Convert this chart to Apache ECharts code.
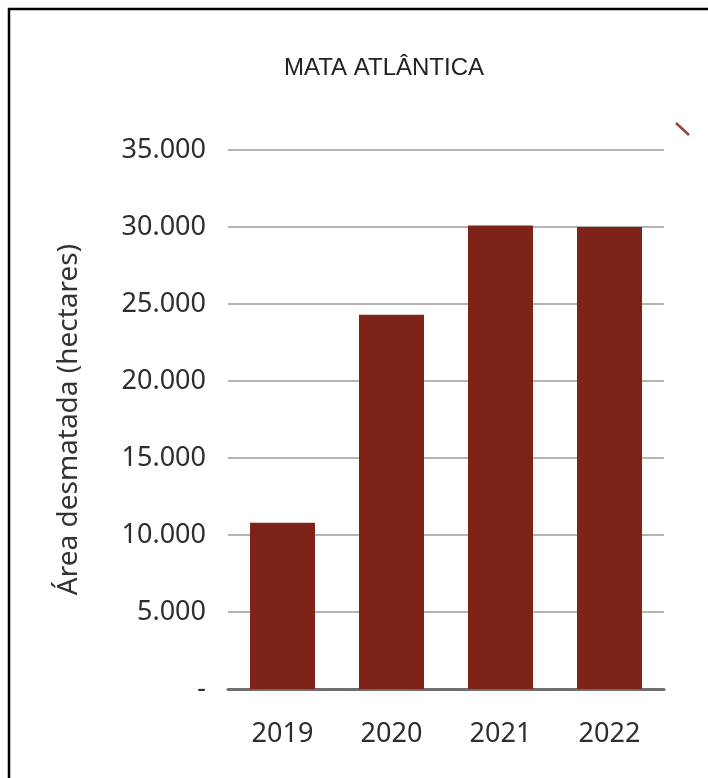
<!DOCTYPE html>
<html>
<head>
<meta charset="utf-8">
<script src="https://cdn.jsdelivr.net/npm/echarts@6/dist/echarts.min.js"></script>
<style>
  html, body { margin: 0; padding: 0; background: #fff; }
  #chart { width: 708px; height: 778px; }
</style>
</head>
<body>
<div id="chart"></div>
<script>
// dados
const years = ["2019", "2020", "2021", "2022"];
const areaDesmatada = [10800, 24300, 30100, 30000];
const yTicks = [0, 5000, 10000, 15000, 20000, 25000, 30000, 35000];

const fmt = (v) =>
  v === 0 ? "-" : String(v).replace(/\B(?=(\d{3})+(?!\d))/g, ".");

const chart = echarts.init(document.getElementById("chart"));
const option = {
  backgroundColor: "#fff",
  animation: false,
  grid: { left: 228, right: 44, top: 150, bottom: 89 },
  xAxis: {
    type: "category",
    data: years,
    axisLine: { lineStyle: { color: "#6e6e6e", width: 3 } },
    axisTick: { show: false },
    axisLabel: {
      margin: 32,
      fontFamily: "Noto Sans",
      fontSize: 27,
      color: "#2e2e2e",
    },
  },
  yAxis: {
    type: "value",
    min: yTicks[0],
    max: yTicks[yTicks.length - 1],
    interval: 5000,
    name: "Área desmatada (hectares)",
    nameLocation: "middle",
    nameGap: 145,
    nameTextStyle: {
      fontFamily: "Noto Sans",
      fontSize: 28,
      color: "#333",
    },
    axisLine: { show: false },
    axisTick: { show: false },
    axisLabel: {
      margin: 22,
      fontFamily: "Noto Sans",
      fontSize: 27,
      color: "#2e2e2e",
      formatter: fmt,
    },
    splitLine: { lineStyle: { color: "#b4b4b4", width: 2 } },
  },
  series: [
    {
      type: "bar",
      data: areaDesmatada,
      barWidth: 65,
      itemStyle: { color: "#7e2318" },
    },
  ],
  graphic: [
    {
      type: "text",
      x: 384,
      y: 68,
      style: {
        text: "MATA ATLÂNTICA",
        fontFamily: "Liberation Sans",
        fontSize: 24,
        fill: "#222",
        align: "center",
        verticalAlign: "middle",
      },
    },
    {
      type: "line",
      shape: { x1: 676, y1: 123, x2: 689, y2: 135 },
      style: { stroke: "#a0403a", lineWidth: 2.5 },
    },
    {
      type: "polyline",
      shape: { points: [[9, 778], [9, 9], [708, 9]] },
      style: { stroke: "#000", lineWidth: 2.5, fill: null },
    },
  ],
};
chart.setOption(option);
</script>
</body>
</html>
